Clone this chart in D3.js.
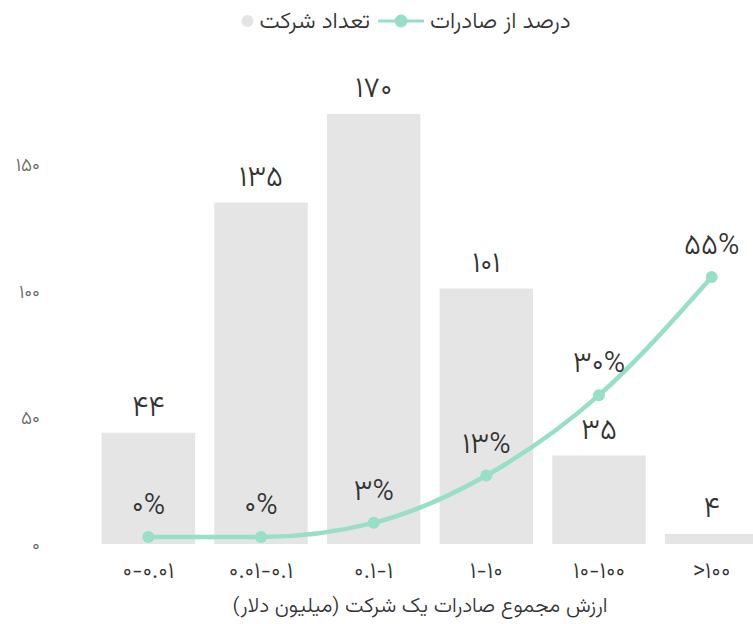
<!DOCTYPE html>
<html>
<head>
<meta charset="utf-8">
<script src="https://cdn.jsdelivr.net/npm/d3@7"></script>
<style>
  body { margin: 0; background: #fff; }
  text { font-family: "Vazirmatn", "DejaVu Sans", sans-serif; font-weight: 300; }
  .num { direction: ltr; unicode-bidi: bidi-override; }
</style>
</head>
<body>
<div id="chart"></div>
<script>
// data
var categories = ["۰-۰.۰۱", "۰.۰۱-۰.۱", "۰.۱-۱", "۱-۱۰", "۱۰-۱۰۰", ">۱۰۰"];
var firmCounts = [44, 135, 170, 101, 35, 4];
var countLabels = ["۴۴", "۱۳۵", "۱۷۰", "۱۰۱", "۳۵", "۴"];
var exportShare = [0, 0, 3, 13, 30, 55];
var shareLabels = ["۰%", "۰%", "۳%", "۱۳%", "۳۰%", "۵۵%"];
var yTicks = [0, 50, 100, 150];
var yTickLabels = ["۰", "۵۰", "۱۰۰", "۱۵۰"];
var legendLine = "درصد از صادرات";
var legendBar = "تعداد شرکت";
var xTitle = "ارزش مجموع صادرات یک شرکت (میلیون دلار)";

var canvasWidth = 753;
var canvasHeight = 624;
var barColor = "#e5e5e5";
var lineColor = "#97dfc7";

var svg = d3.select("#chart")
    .append("svg")
    .attr("width", canvasWidth)
    .attr("height", canvasHeight);

var x = d3.scaleBand()
    .domain(categories)
    .range([92, 768])
    .paddingInner(0.17)
    .paddingOuter(0.085);

var y = d3.scaleLinear()
    .domain([0, 170])
    .range([544, 114]);

// percent scale, zero sits a little above the bar baseline
var yp = d3.scaleLinear()
    .domain([0, 55])
    .range([537, 277]);

// y axis labels only
svg.append("g")
    .selectAll("text")
    .data(yTicks)
    .join("text")
    .attr("class", "num")
    .attr("x", 40)
    .attr("y", function(d){ return y(d); })
    .attr("dy", "0.35em")
    .attr("text-anchor", "end")
    .attr("font-size", 19)
    .attr("fill", "#666")
    .text(function(d, i){ return yTickLabels[i]; });

// bars
svg.append("g")
    .selectAll("rect")
    .data(firmCounts)
    .join("rect")
    .attr("x", function(d, i){ return x(categories[i]); })
    .attr("width", x.bandwidth())
    .attr("y", function(d){ return y(d); })
    .attr("height", function(d){ return y(0) - y(d); })
    .attr("fill", barColor);

svg.append("g")
    .selectAll("text")
    .data(firmCounts)
    .join("text")
    .attr("class", "num")
    .attr("x", function(d, i){ return x(categories[i]) + x.bandwidth()/2; })
    .attr("y", function(d){ return y(d) - 27; })
    .attr("dy", "0.35em")
    .attr("text-anchor", "middle")
    .attr("font-size", 29)
    .attr("fill", "#333")
    .text(function(d, i){ return countLabels[i]; });

// line
var line = d3.line()
    .x(function(d, i){ return x(categories[i]) + x.bandwidth()/2; })
    .y(function(d){ return yp(d); })
    .curve(d3.curveMonotoneX);

svg.append("path")
    .datum(exportShare)
    .attr("d", line)
    .attr("fill", "none")
    .attr("stroke", lineColor)
    .attr("stroke-width", 4.5);

svg.append("g")
    .selectAll("circle")
    .data(exportShare)
    .join("circle")
    .attr("cx", function(d, i){ return x(categories[i]) + x.bandwidth()/2; })
    .attr("cy", function(d){ return yp(d); })
    .attr("r", 6)
    .attr("fill", lineColor);

svg.append("g")
    .selectAll("text")
    .data(exportShare)
    .join("text")
    .attr("class", "num")
    .attr("x", function(d, i){ return x(categories[i]) + x.bandwidth()/2; })
    .attr("y", function(d){ return yp(d) - 33; })
    .attr("dy", "0.35em")
    .attr("text-anchor", "middle")
    .attr("font-size", 29)
    .attr("fill", "#333")
    .text(function(d, i){ return shareLabels[i]; });

// x axis labels
svg.append("g")
    .selectAll("text")
    .data(categories)
    .join("text")
    .attr("class", "num")
    .attr("x", function(d){ return x(d) + x.bandwidth()/2; })
    .attr("y", 571)
    .attr("dy", "0.3em")
    .attr("text-anchor", "middle")
    .attr("font-size", 23)
    .attr("letter-spacing", 1.5)
    .attr("fill", "#333")
    .text(function(d){ return d; });

svg.append("text")
    .attr("x", 420)
    .attr("y", 605)
    .attr("dy", "0.35em")
    .attr("text-anchor", "middle")
    .attr("direction", "rtl")
    .attr("font-size", 21)
    .attr("fill", "#333")
    .text(xTitle);

// legend, laid out right to left
var legend = svg.append("g");
var t1 = legend.append("text")
    .attr("y", 20)
    .attr("dy", "0.35em")
    .attr("text-anchor", "start")
    .attr("font-size", 23)
    .attr("fill", "#333")
    .text(legendLine);
var t2 = legend.append("text")
    .attr("y", 20)
    .attr("dy", "0.35em")
    .attr("text-anchor", "start")
    .attr("font-size", 23)
    .attr("fill", "#333")
    .text(legendBar);

var w1 = t1.node().getComputedTextLength();
var w2 = t2.node().getComputedTextLength();
var markW = 46, gap = 6, dotR = 6;
var total = w1 + gap + markW + 8 + w2 + gap + dotR*2;
var right = 406 + total/2;

t1.attr("x", right - w1);
var mx1 = right - w1 - gap - markW;
legend.append("line")
    .attr("x1", mx1).attr("x2", mx1 + markW)
    .attr("y1", 21).attr("y2", 21)
    .attr("stroke", lineColor)
    .attr("stroke-width", 3);
legend.append("circle")
    .attr("cx", mx1 + markW/2).attr("cy", 21)
    .attr("r", 6.5).attr("fill", lineColor);
var t2r = mx1 - 8;
t2.attr("x", t2r - w2);
legend.append("circle")
    .attr("cx", t2r - w2 - gap - dotR).attr("cy", 21)
    .attr("r", dotR).attr("fill", barColor);
</script>
</body>
</html>
